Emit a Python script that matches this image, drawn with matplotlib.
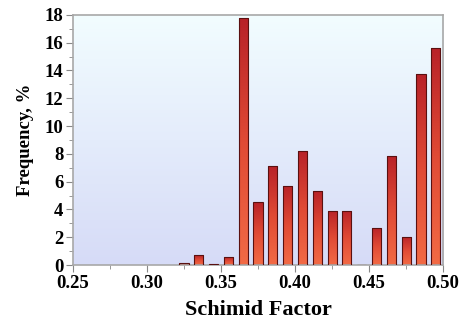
import numpy as np
import matplotlib.pyplot as plt
from matplotlib.colors import LinearSegmentedColormap

# --- Data ---
schmid = [0.325, 0.335, 0.345, 0.355, 0.365, 0.375, 0.385, 0.395, 0.405,
          0.415, 0.425, 0.435, 0.445, 0.455, 0.465, 0.475, 0.485, 0.495]
freq = [0.15, 0.7, 0.05, 0.55, 17.75, 4.5, 7.1, 5.7, 8.2,
        5.35, 3.9, 3.9, 0.02, 2.7, 7.85, 2.05, 13.75, 15.65]
xticks = [0.25, 0.30, 0.35, 0.40, 0.45, 0.50]
yticks = [0, 2, 4, 6, 8, 10, 12, 14, 16, 18]

plt.rcParams['font.family'] = ['Liberation Serif', 'DejaVu Serif']
plt.rcParams['font.weight'] = 'bold'

fig = plt.figure(figsize=(4.65, 3.24), dpi=100)
ax = fig.add_axes([0.157, 0.182, 0.796, 0.772])

# background gradient (light cyan top -> lavender bottom)
bg = LinearSegmentedColormap.from_list('bg', ['#d6dbf7', '#f2fdff'])
grad = np.linspace(0, 1, 256).reshape(-1, 1)
ax.imshow(grad, cmap=bg, origin='lower', extent=[0, 1, 0, 1],
          transform=ax.transAxes, aspect='auto', zorder=0)

# bars with vertical gradient
barcm = LinearSegmentedColormap.from_list('bar', ['#f26a45', '#e04a35', '#b82228'])
width = 0.0062
bars = ax.bar(schmid, freq, width=width, facecolor='none',
              edgecolor='#5a1010', linewidth=0.8, zorder=3)
for b in bars:
    x0, h = b.get_x(), b.get_height()
    if h <= 0:
        continue
    im = ax.imshow(grad, cmap=barcm, origin='lower',
                   extent=[x0, x0 + width, 0, h], aspect='auto', zorder=2)
    im.set_clip_path(b)

ax.set_xlim(0.25, 0.50)
ax.set_ylim(0, 18)
ax.set_xticks(xticks)
ax.set_xticklabels(['%.2f' % v for v in xticks])
ax.set_yticks(yticks)
ax.set_xticks(np.arange(0.25, 0.501, 0.025), minor=True)
ax.set_yticks(np.arange(0, 18.1, 1), minor=True)

for s in ax.spines.values():
    s.set_color('#a8a8a8')
    s.set_linewidth(1.2)
ax.tick_params(which='both', colors='#888888', labelcolor='black',
               labelsize=13.5, direction='out')
ax.tick_params(which='major', length=5, pad=2)
ax.tick_params(which='minor', length=3)

ax.set_xlabel('Schimid Factor', fontsize=16, fontweight='bold', labelpad=6)
ax.set_ylabel('Frequency, %', fontsize=13.5, fontweight='bold')
ax.yaxis.set_label_coords(-0.105, 0.5)

fig.savefig('out.png', dpi=100)
